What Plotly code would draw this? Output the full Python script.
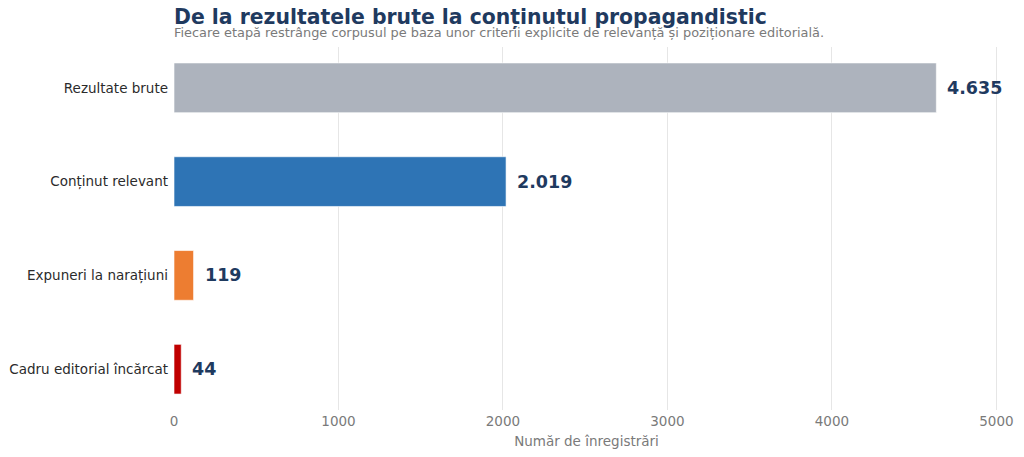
import plotly.graph_objects as go

# data (top to bottom as shown)
stages = ["Rezultate brute", "Conținut relevant", "Expuneri la narațiuni", "Cadru editorial încărcat"]
counts = [4635, 2019, 119, 44]
value_labels = ["4.635", "2.019", "119", "44"]
bar_colors = ["#adb3bd", "#2e74b5", "#ed7d31", "#c00000"]

NAVY = "#1f3a5f"
GREY = "#7a7a7a"
FONT = "DejaVu Sans"

fig = go.Figure(
    go.Bar(
        y=stages,
        x=counts,
        orientation="h",
        width=0.53,
        marker=dict(color=bar_colors, line=dict(color="rgba(255,255,255,0.6)", width=1)),
        hoverinfo="skip",
    )
)

# value labels just past the bar ends
for stage, n, lab in zip(stages, counts, value_labels):
    fig.add_annotation(
        x=n, y=stage, text=f"<b>{lab}</b>", showarrow=False,
        xanchor="left", xshift=9,
        font=dict(family=FONT, size=17.5, color=NAVY),
    )

# page body has an 8px margin, so the figure is a bit smaller than the window
fig.update_layout(
    width=1008,
    height=441,
    margin=dict(l=166, r=17, t=39, b=39),
    paper_bgcolor="white",
    plot_bgcolor="white",
    font=dict(family=FONT, size=13.5, color="#333333"),
    showlegend=False,
)
fig.update_xaxes(
    range=[0, 5016],
    tickvals=[0, 1000, 2000, 3000, 4000, 5000],
    showgrid=True,
    gridcolor="#e6e6e6",
    gridwidth=1,
    zeroline=False,
    showline=False,
    automargin=False,
    ticklabelstandoff=1,
    tickfont=dict(color=GREY, size=13.5),
    title=dict(text="Număr de înregistrări", font=dict(color=GREY, size=13.5), standoff=9),
)
fig.update_yaxes(
    categoryorder="array",
    categoryarray=stages[::-1],
    range=[-0.435, 3.435],
    showgrid=False,
    zeroline=False,
    showline=False,
    automargin=False,
    ticks="",
    ticklabelstandoff=5,
    tickfont=dict(color="#2b2b2b", size=13.5),
)

fig.add_annotation(
    text="<b>De la rezultatele brute la conținutul propagandistic</b>",
    xref="paper", yref="paper", x=0, y=1, xanchor="left", yanchor="bottom",
    xshift=-2, yshift=15, showarrow=False,
    font=dict(family=FONT, size=20.4, color=NAVY),
)
fig.add_annotation(
    text="Fiecare etapă restrânge corpusul pe baza unor criterii explicite de relevanță și poziționare editorială.",
    xref="paper", yref="paper", x=0, y=1, xanchor="left", yanchor="bottom",
    xshift=-2, yshift=5, showarrow=False,
    font=dict(family=FONT, size=12.9, color=GREY),
)

fig.write_html("out.html")
